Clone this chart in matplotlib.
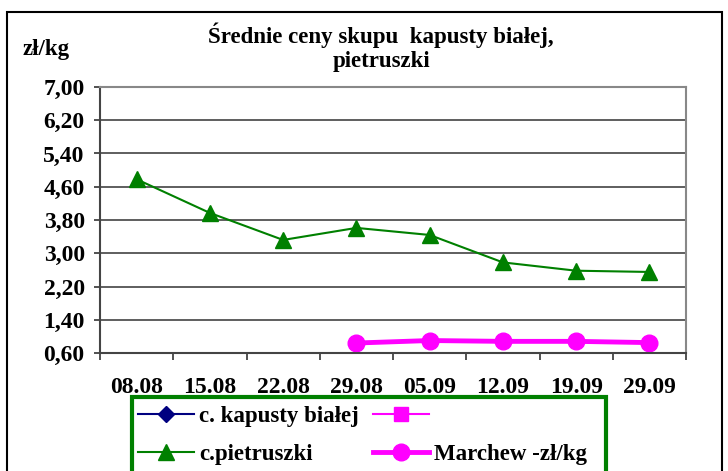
import numpy as np
import matplotlib
matplotlib.use("Agg")
import matplotlib.pyplot as plt
from matplotlib.patches import Rectangle

plt.rcParams['font.family'] = ['Liberation Serif', 'DejaVu Serif']
plt.rcParams['font.weight'] = 'bold'

categories = ["08.08", "15.08", "22.08", "29.08", "05.09", "12.09", "19.09", "29.09"]
kapusty = [np.nan] * 8
seria2 = [np.nan] * 8
pietruszki = [4.78, 3.97, 3.32, 3.61, 3.44, 2.78, 2.58, 2.55]
marchew = [np.nan, np.nan, np.nan, 0.84, 0.90, 0.88, 0.88, 0.85]
yticks = [0.60, 1.40, 2.20, 3.00, 3.80, 4.60, 5.40, 6.20, 7.00]

FS = 17
LFS = 16.5
W, H = 728, 471
fig = plt.figure(figsize=(W / 100, H / 100), dpi=100)
ax = fig.add_axes([100 / W, (H - 353) / H, 586 / W, 266 / H])

x = np.arange(len(categories))
l1, = ax.plot(x, kapusty, color='#000080', marker='D', markersize=8, lw=1.5)
l2, = ax.plot(x, seria2, color='#FF00FF', marker='s', markersize=10, lw=1.5)
l3, = ax.plot(x, pietruszki, color='#008000', marker='^', markersize=12, lw=1.5)
l4, = ax.plot(x, marchew, color='#FF00FF', marker='o', markersize=12, lw=3.5)

ax.set_xlim(-0.5, len(categories) - 0.5)
ax.set_ylim(0.60, 7.00)
ax.set_yticks(yticks)
ax.set_yticklabels([f"{v:.2f}".replace('.', ',') for v in yticks], fontsize=FS, fontweight='bold')
ax.set_xticks(x)
ax.set_xticklabels(categories, fontsize=FS, fontweight='bold')
ax.tick_params(axis='x', which='major', length=0, pad=17)
ax.set_xticks(np.arange(-0.5, len(categories)), minor=True)
ax.tick_params(axis='x', which='minor', length=5, width=1.2, color='#333333')
ax.tick_params(axis='y', length=4, width=1.2, color='#333333', pad=7)
ax.grid(axis='y', color='#333333', lw=1.1)
ax.set_axisbelow(True)
for s in ['left', 'bottom']:
    ax.spines[s].set_color('#444444')
    ax.spines[s].set_linewidth(1.5)
for s in ['top', 'right']:
    ax.spines[s].set_color('#888888')
    ax.spines[s].set_linewidth(1.5)

fig.text(381 / W, 1 - 35 / H, "Średnie ceny skupu  kapusty białej,", ha='center', va='center',
         fontsize=16.5, fontweight='bold')
fig.text(381 / W, 1 - 62 / H, "pietruszki", ha='center', va='center', fontsize=16.5, fontweight='bold')
fig.text(46 / W, 1 - 50 / H, "zł/kg", ha='center', va='center', fontsize=16.5, fontweight='bold')

# outer border
fig.patches.append(Rectangle((7 / W, -0.1), 715 / W, 1.1 - 12 / H, transform=fig.transFigure,
                             fill=False, edgecolor='black', lw=1.5))
# legend frame
fig.patches.append(Rectangle((132 / W, -0.1), 474 / W, 0.1 + (H - 397) / H, transform=fig.transFigure,
                             fill=False, edgecolor='#008000', lw=3))

leg = fig.legend([l1, l3, l2, l4], ["c. kapusty białej", "c.pietruszki", "", "Marchew -zł/kg"],
                 ncol=2, loc='upper left', bbox_to_anchor=(138 / W, 1 - 406 / H),
                 frameon=False, prop={'size': LFS, 'weight': 'bold'},
                 handlelength=2.44, handletextpad=0.22, columnspacing=0.61, labelspacing=0.72,
                 borderaxespad=0, borderpad=0)

fig.savefig("out.png", dpi=100)
